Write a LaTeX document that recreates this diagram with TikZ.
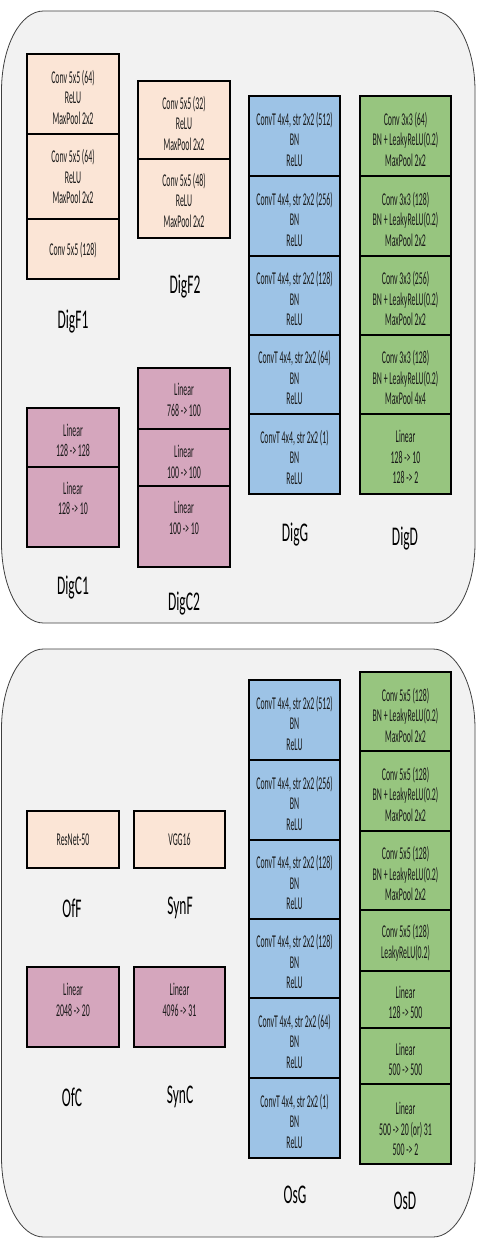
\documentclass[tikz,border=0pt]{standalone}
\usepackage{fontspec}
\setmainfont{Carlito}
\newfontfamily\boxfont[FakeStretch=0.435]{Carlito}
\newfontfamily\labfont[FakeStretch=0.5]{Carlito}
\usetikzlibrary{fit}
\definecolor{peach}{HTML}{FBE5D6}
\definecolor{pinkc}{HTML}{D5A6BD}
\definecolor{bluec}{HTML}{9DC3E6}
\definecolor{greenc}{HTML}{97C57F}
\definecolor{panelfill}{HTML}{F2F2F2}
\definecolor{panelline}{HTML}{404040}
\tikzset{
  cellbox/.style={draw=black, line width=1.1pt, inner sep=0pt},
  celltext/.style={font=\boxfont\fontsize{18}{20.5}\selectfont, align=center, inner sep=0pt, text=black!90},
  labeltext/.style={font=\labfont\fontsize{27}{29}\selectfont, inner sep=0pt, text=black},
  panelstyle/.style={draw=panelline, line width=0.8pt, fill=panelfill}
}
\newcommand\mycell[8]{%
  \node[cellbox, fill=#6, fit={(#2,#3) (#4,#5)}] (#1) {};
  \node[celltext] (#1-t) at ({(#2+#4)/2},#7) {#8};
}
\newcommand\mypanel[4]{%
  \draw[panelstyle] (#1+42,#2) -- (#3-42,#2)
    .. controls (#3-19,#2) and (#3,#2+35) .. (#3,#2+80)
    -- (#3,#4-80)
    .. controls (#3,#4-35) and (#3-19,#4) .. (#3-42,#4)
    -- (#1+42,#4)
    .. controls (#1+19,#4) and (#1,#4-35) .. (#1,#4-80)
    -- (#1,#2+80)
    .. controls (#1,#2+35) and (#1+19,#2) .. (#1+42,#2) -- cycle;
}
\begin{document}
\begin{tikzpicture}[x=1pt,y=-1pt]
\useasboundingbox (0,0) rectangle (476,1246);
\fill[white] (0,0) rectangle (476,1246);
\mypanel{1.5}{11}{475}{623}
\mypanel{1.5}{649}{475}{1237}

% ---------- top panel ----------
% DigF1
\mycell{f1a}{27}{54}{119}{134}{peach}{97}{Conv 5x5 (64)\\ReLU\\MaxPool 2x2}
\mycell{f1b}{27}{134}{119}{219}{peach}{176.5}{Conv 5x5 (64)\\ReLU\\MaxPool 2x2}
\mycell{f1c}{27}{219}{119}{279}{peach}{250}{Conv 5x5 (128)}
% DigF2
\mycell{f2a}{138}{81}{230}{159}{peach}{123}{Conv 5x5 (32)\\ReLU\\MaxPool 2x2}
\mycell{f2b}{138}{159}{230}{238}{peach}{200}{Conv 5x5 (48)\\ReLU\\MaxPool 2x2}
% DigG
\mycell{ga}{249}{96}{340}{176}{bluec}{139}{ConvT 4x4, str 2x2 (512)\\BN\\ReLU}
\mycell{gb}{249}{176}{340}{256}{bluec}{219}{ConvT 4x4, str 2x2 (256)\\BN\\ReLU}
\mycell{gc}{249}{256}{340}{335}{bluec}{298.5}{ConvT 4x4, str 2x2 (128)\\BN\\ReLU}
\mycell{gd}{249}{335}{340}{414}{bluec}{377.5}{ConvT 4x4, str 2x2 (64)\\BN\\ReLU}
\mycell{ge}{249}{414}{340}{494}{bluec}{457}{ConvT 4x4, str 2x2 (1)\\BN\\ReLU}
% DigD
\mycell{da}{360}{96}{451}{176}{greenc}{139}{Conv 3x3 (64)\\BN + LeakyReLU(0.2)\\MaxPool 2x2}
\mycell{db}{360}{176}{451}{256}{greenc}{219}{Conv 3x3 (128)\\BN + LeakyReLU(0.2)\\MaxPool 2x2}
\mycell{dc}{360}{256}{451}{335}{greenc}{298.5}{Conv 3x3 (256)\\BN + LeakyReLU(0.2)\\MaxPool 2x2}
\mycell{dd}{360}{335}{451}{414}{greenc}{377.5}{Conv 3x3 (128)\\BN + LeakyReLU(0.2)\\MaxPool 4x4}
\mycell{de}{360}{414}{451}{494}{greenc}{457}{Linear\\128 -> 10\\128 -> 2}
% DigC1
\mycell{c1a}{27}{408}{119}{467}{pinkc}{440.5}{Linear\\128 -> 128}
\mycell{c1b}{27}{467}{119}{547}{pinkc}{498.5}{Linear\\128 -> 10}
% DigC2
\mycell{c2a}{138}{368}{230}{429}{pinkc}{400}{Linear\\768 -> 100}
\mycell{c2b}{138}{429}{230}{486}{pinkc}{462}{Linear\\100 -> 100}
\mycell{c2c}{138}{486}{230}{567}{pinkc}{518}{Linear\\100 -> 10}

\node[labeltext] (lDigF1) at (73,322) {DigF1};
\node[labeltext] (lDigF2) at (185,287) {DigF2};
\node[labeltext] (lDigG) at (295,535) {DigG};
\node[labeltext] (lDigD) at (405,539) {DigD};
\node[labeltext] (lDigC1) at (73,588) {DigC1};
\node[labeltext] (lDigC2) at (184,604) {DigC2};

% ---------- bottom panel ----------
\mycell{off}{27}{811}{119}{868}{peach}{839.5}{ResNet-50}
\mycell{synf}{134}{811}{225}{868}{peach}{839.5}{VGG16}
\mycell{ofc}{27}{967}{119}{1047}{pinkc}{1000}{Linear\\2048 -> 20}
\mycell{sync}{134}{967}{225}{1047}{pinkc}{1000}{Linear\\4096 -> 31}
% OsG
\mycell{oga}{249}{680}{340}{760}{bluec}{723}{ConvT 4x4, str 2x2 (512)\\BN\\ReLU}
\mycell{ogb}{249}{760}{340}{840}{bluec}{803}{ConvT 4x4, str 2x2 (256)\\BN\\ReLU}
\mycell{ogc}{249}{840}{340}{919}{bluec}{882.5}{ConvT 4x4, str 2x2 (128)\\BN\\ReLU}
\mycell{ogd}{249}{919}{340}{998}{bluec}{961.5}{ConvT 4x4, str 2x2 (128)\\BN\\ReLU}
\mycell{oge}{249}{998}{340}{1078}{bluec}{1041}{ConvT 4x4, str 2x2 (64)\\BN\\ReLU}
\mycell{ogf}{249}{1078}{340}{1158}{bluec}{1121}{ConvT 4x4, str 2x2 (1)\\BN\\ReLU}
% OsD
\mycell{oda}{360}{672}{451}{751}{greenc}{715}{Conv 5x5 (128)\\BN + LeakyReLU(0.2)\\MaxPool 2x2}
\mycell{odb}{360}{751}{451}{831}{greenc}{794}{Conv 5x5 (128)\\BN + LeakyReLU(0.2)\\MaxPool 2x2}
\mycell{odc}{360}{831}{451}{910}{greenc}{873.5}{Conv 5x5 (128)\\BN + LeakyReLU(0.2)\\MaxPool 2x2}
\mycell{odd}{360}{910}{451}{971}{greenc}{943}{Conv 5x5 (128)\\LeakyReLU(0.2)}
\mycell{ode}{360}{971}{451}{1028}{greenc}{1002.5}{Linear\\128 -> 500}
\mycell{odf}{360}{1028}{451}{1084}{greenc}{1059.5}{Linear\\500 -> 500}
\mycell{odg}{360}{1084}{451}{1164}{greenc}{1129}{Linear\\500 -> 20 (or) 31\\500 -> 2}

\node[labeltext] (lOfF) at (72,908) {OfF};
\node[labeltext] (lSynF) at (180,908) {SynF};
\node[labeltext] (lOfC) at (72,1097) {OfC};
\node[labeltext] (lSynC) at (180,1097) {SynC};
\node[labeltext] (lOsG) at (295,1195) {OsG};
\node[labeltext] (lOsD) at (405,1201) {OsD};
\end{tikzpicture}
\end{document}
